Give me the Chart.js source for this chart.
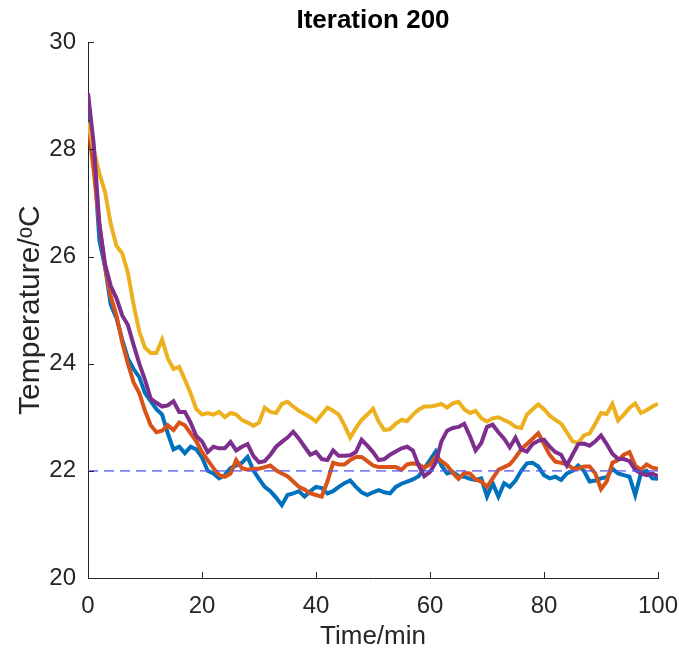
<!DOCTYPE html>
<html>
<head>
<meta charset="utf-8">
<script src="https://cdn.jsdelivr.net/npm/chart.js@4.4.1/dist/chart.umd.min.js"></script>
<style>
  html, body { margin: 0; padding: 0; background: #fff; }
  #wrap { width: 679px; height: 654px; }
</style>
</head>
<body>
<div id="wrap"><canvas id="c" width="679" height="654"></canvas></div>
<script>
// time grid, one sample per minute
const timeMin = [
  0, 1, 2, 3, 4, 5, 6, 7, 8, 9, 10, 11, 12, 13, 14, 15, 16, 17, 18, 19,
  20, 21, 22, 23, 24, 25, 26, 27, 28, 29, 30, 31, 32, 33, 34, 35, 36, 37, 38, 39,
  40, 41, 42, 43, 44, 45, 46, 47, 48, 49, 50, 51, 52, 53, 54, 55, 56, 57, 58, 59,
  60, 61, 62, 63, 64, 65, 66, 67, 68, 69, 70, 71, 72, 73, 74, 75, 76, 77, 78, 79,
  80, 81, 82, 83, 84, 85, 86, 87, 88, 89, 90, 91, 92, 93, 94, 95, 96, 97, 98, 99, 100
];

const tempBlue = [
  29.0, 27.9, 26.3, 25.8, 25.1, 24.85, 24.45, 24.1, 23.9, 23.75,
  23.45, 23.3, 23.15, 23.05, 22.7, 22.4, 22.45, 22.33, 22.45, 22.4,
  22.25, 22.0, 21.95, 21.86, 21.92, 22.05, 22.1, 22.15, 22.26, 22.01,
  21.85, 21.7, 21.62, 21.5, 21.36, 21.55, 21.58, 21.62, 21.52, 21.62,
  21.7, 21.68, 21.58, 21.62, 21.7, 21.77, 21.82, 21.7, 21.6, 21.55,
  21.6, 21.64, 21.6, 21.58, 21.7, 21.76, 21.8, 21.84, 21.9, 22.05,
  22.2, 22.36, 22.1, 21.95, 21.98, 21.9, 21.89, 21.85, 21.83, 21.86,
  21.52, 21.77, 21.52, 21.77, 21.7, 21.82, 22.0, 22.14, 22.15, 22.08,
  21.92, 21.86, 21.89, 21.83, 21.95, 22.0, 22.1, 22.0, 21.8, 21.82,
  21.86, 21.88, 22.04, 21.95, 21.92, 21.89, 21.55, 21.95, 22.0, 21.86, 21.85
];

const tempOrange = [
  28.5, 27.6, 26.6, 25.8, 25.25, 24.9, 24.4, 24.0, 23.65, 23.45,
  23.12, 22.85, 22.72, 22.75, 22.85, 22.76, 22.9, 22.85, 22.7, 22.55,
  22.35, 22.2, 22.05, 21.92, 21.89, 21.95, 22.2, 22.05, 22.02, 22.04,
  22.04, 22.07, 22.1, 22.01, 21.95, 21.9, 21.8, 21.7, 21.65, 21.58,
  21.55, 21.52, 21.8, 22.15, 22.12, 22.12, 22.2, 22.26, 22.26, 22.18,
  22.1, 22.07, 22.07, 22.07, 22.07, 22.02, 22.12, 22.14, 22.12, 22.06,
  22.12, 22.26, 22.18, 22.1, 21.96, 21.85, 21.96, 21.95, 21.84, 21.8,
  21.7, 21.86, 22.02, 22.07, 22.12, 22.25, 22.4, 22.5, 22.6, 22.7,
  22.5, 22.3, 22.17, 22.15, 22.12, 22.05, 22.04, 22.08, 22.08, 21.95,
  21.66, 21.8, 22.15, 22.2, 22.3, 22.35, 22.1, 22.02, 22.12, 22.06, 22.04
];

const tempYellow = [
  28.5, 28.0, 27.55, 27.2, 26.6, 26.2, 26.06, 25.7, 25.1, 24.6,
  24.3, 24.2, 24.2, 24.45, 24.1, 23.9, 23.94, 23.7, 23.45, 23.15,
  23.05, 23.08, 23.05, 23.1, 23.0, 23.08, 23.05, 22.95, 22.9, 22.84,
  22.9, 23.18, 23.1, 23.08, 23.25, 23.29, 23.2, 23.12, 23.06, 23.0,
  22.92, 23.05, 23.18, 23.12, 23.05, 22.85, 22.62, 22.8, 22.95, 23.05,
  23.16, 22.92, 22.76, 22.78, 22.88, 22.95, 22.93, 23.05, 23.14, 23.2,
  23.2, 23.22, 23.25, 23.18, 23.26, 23.29, 23.15, 23.08, 23.12, 22.98,
  22.92, 22.98, 23.0, 22.95, 22.9, 22.82, 22.8, 23.05, 23.15, 23.24,
  23.15, 23.03, 22.95, 22.88, 22.72, 22.55, 22.52, 22.66, 22.7, 22.88,
  23.08, 23.06, 23.25, 22.94, 23.05, 23.18, 23.26, 23.08, 23.13, 23.2, 23.25
];

const tempPurple = [
  29.05, 28.1, 26.6, 25.85, 25.45, 25.22, 24.9, 24.72, 24.35, 24.0,
  23.7, 23.35, 23.27, 23.2, 23.22, 23.3, 23.1, 23.1, 22.9, 22.65,
  22.55, 22.35, 22.45, 22.42, 22.42, 22.54, 22.38, 22.45, 22.5, 22.28,
  22.16, 22.18, 22.3, 22.45, 22.54, 22.62, 22.73, 22.6, 22.45, 22.3,
  22.35, 22.22, 22.2, 22.38, 22.28, 22.28, 22.29, 22.35, 22.58, 22.47,
  22.35, 22.2, 22.22, 22.3, 22.36, 22.42, 22.45, 22.38, 22.1, 21.9,
  21.98, 22.15, 22.55, 22.75, 22.8, 22.82, 22.88, 22.65, 22.38, 22.52,
  22.82, 22.86, 22.72, 22.6, 22.44, 22.62, 22.4, 22.36, 22.5, 22.56,
  22.58, 22.45, 22.35, 22.3, 22.1, 22.3, 22.5, 22.51, 22.47, 22.55,
  22.66, 22.5, 22.32, 22.22, 22.22, 22.18, 22.02, 21.95, 21.92, 21.95, 21.9
];

const setpoint = 22;
const xTicks = [0, 20, 40, 60, 80, 100];
const yTicks = [20, 22, 24, 26, 28, 30];

const FONT = "'Liberation Sans', Arial, sans-serif";
const AXIS_COLOR = '#262626';

function series(values) {
  return timeMin.map((t, i) => ({ x: t, y: values[i] }));
}

// MATLAB style ticks pointing into the plot
const inwardTicks = {
  id: 'inwardTicks',
  afterDatasetsDraw(chart) {
    const { ctx, chartArea, scales } = chart;
    const len = 6;
    ctx.save();
    ctx.strokeStyle = AXIS_COLOR;
    ctx.lineWidth = 1;
    ctx.beginPath();
    xTicks.forEach(v => {
      const px = Math.round(scales.x.getPixelForValue(v)) + 0.5;
      ctx.moveTo(px, chartArea.bottom);
      ctx.lineTo(px, chartArea.bottom - len);
    });
    yTicks.forEach(v => {
      const py = Math.round(scales.y.getPixelForValue(v)) + 0.5;
      ctx.moveTo(chartArea.left, py);
      ctx.lineTo(chartArea.left + len, py);
    });
    ctx.stroke();
    ctx.restore();
  }
};

const lineStyle = { borderWidth: 4, pointRadius: 0, tension: 0, fill: false };

new Chart(document.getElementById('c'), {
  type: 'line',
  data: {
    datasets: [
      { label: 'setpoint', data: [{ x: 0, y: setpoint }, { x: 100, y: setpoint }],
        borderColor: 'rgba(90,90,240,0.75)', borderWidth: 1.6, borderDash: [10, 6],
        pointRadius: 0, order: 0 },
      { label: 'run 1', data: series(tempBlue), borderColor: '#0072BD', order: 4, ...lineStyle },
      { label: 'run 2', data: series(tempOrange), borderColor: '#D95319', order: 3, ...lineStyle },
      { label: 'run 3', data: series(tempYellow), borderColor: '#EDB120', order: 2, ...lineStyle },
      { label: 'run 4', data: series(tempPurple), borderColor: '#7E2F8E', order: 1, ...lineStyle }
    ]
  },
  options: {
    responsive: false,
    animation: false,
    layout: { padding: { left: 0, right: 21, top: 0, bottom: 0 } },
    plugins: {
      legend: { display: false },
      tooltip: { enabled: false },
      title: {
        display: true,
        text: 'Iteration 200',
        fullSize: false,
        color: '#000',
        font: { family: FONT, size: 26, weight: 'bold', lineHeight: 1.2 },
        padding: { top: 5, bottom: 6 }
      }
    },
    scales: {
      x: {
        type: 'linear',
        min: 0, max: 100,
        afterBuildTicks: s => { s.ticks = xTicks.map(v => ({ value: v })); },
        afterFit: s => { s.height = 76; s.paddingLeft = 0; s.paddingRight = 0; },
        grid: { display: true, drawOnChartArea: false, drawTicks: false },
        border: { display: true, color: AXIS_COLOR, width: 1 },
        ticks: { color: AXIS_COLOR, padding: 14, maxRotation: 0,
                 font: { family: FONT, size: 24 } },
        title: { display: true, text: 'Time/min', color: AXIS_COLOR,
                 font: { family: FONT, size: 26 }, padding: { top: 0, bottom: 2 } }
      },
      y: {
        type: 'linear',
        min: 20, max: 30,
        afterBuildTicks: s => { s.ticks = yTicks.map(v => ({ value: v })); },
        afterFit: s => { s.width = 88; s.paddingTop = 0; s.paddingBottom = 0; },
        grid: { display: true, drawOnChartArea: false, drawTicks: false },
        border: { display: true, color: AXIS_COLOR, width: 1 },
        ticks: { color: AXIS_COLOR, padding: 12,
                 font: { family: FONT, size: 24 } },
        title: { display: true, text: 'Temperature/\u1D52C', color: AXIS_COLOR,
                 font: { family: FONT, size: 30 }, padding: { top: 13, bottom: 0 } }
      }
    }
  },
  plugins: [inwardTicks]
});
</script>
</body>
</html>
